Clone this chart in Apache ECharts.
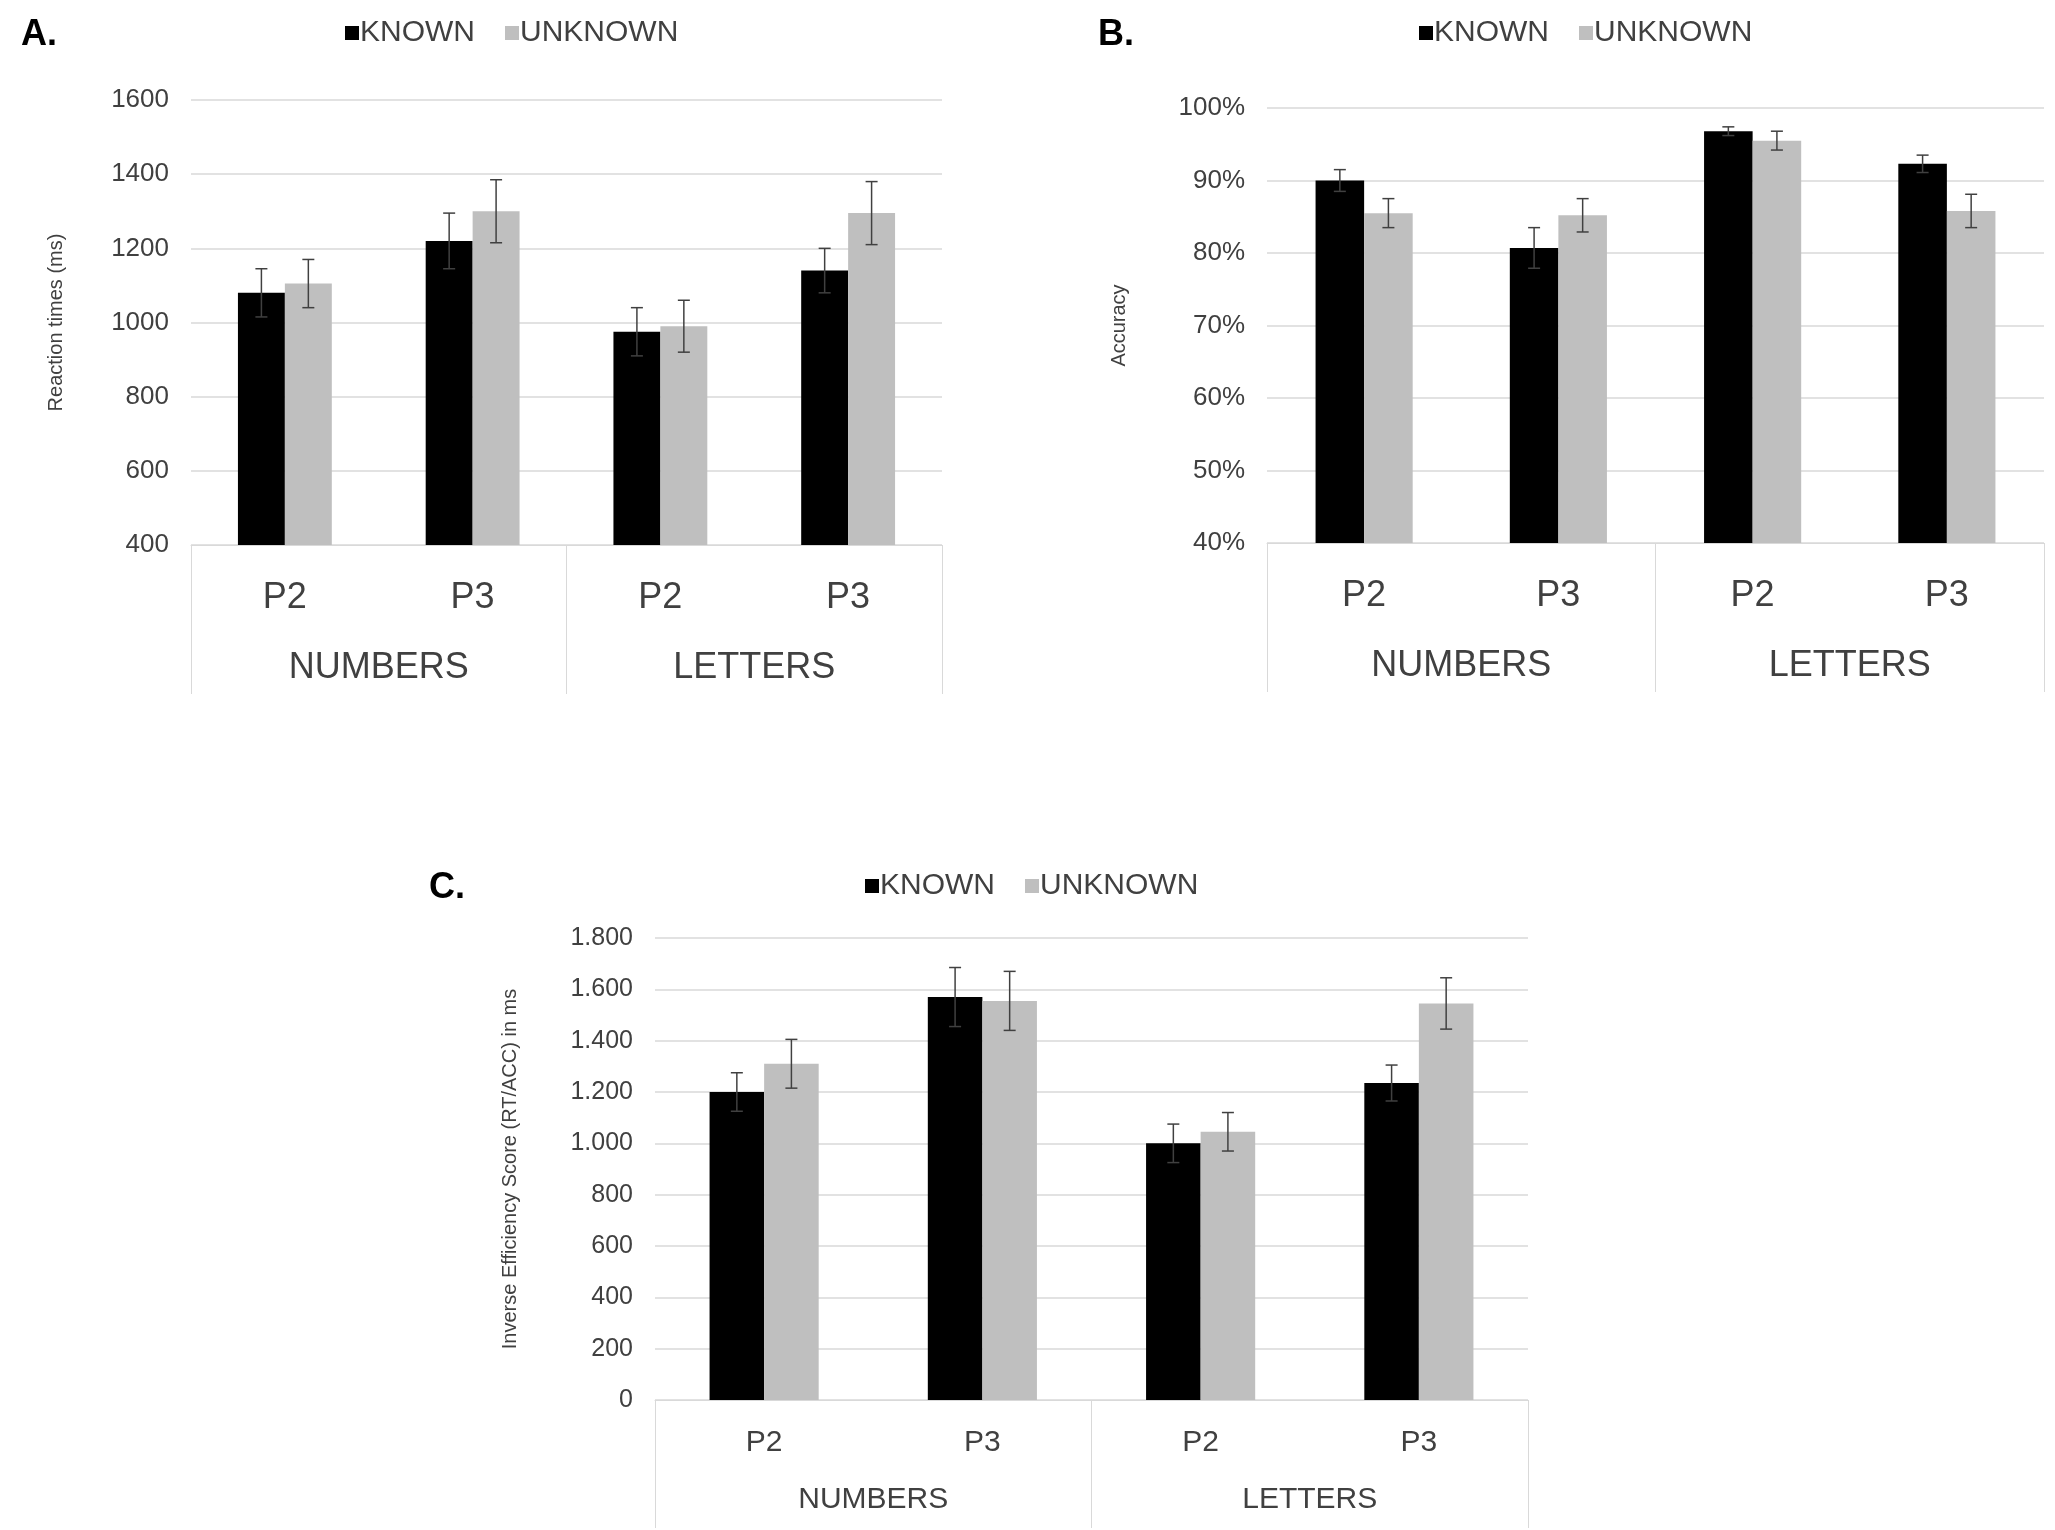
<!DOCTYPE html>
<html><head><meta charset="utf-8">
<script src="https://cdn.jsdelivr.net/npm/echarts@6/dist/echarts.min.js"></script>
<style>html,body{margin:0;background:#fff}#c{width:2055px;height:1530px}</style>
</head><body><div id="c"></div>
<script>
const subCats = ['P2','P3','P2','P3'];
const groupCats = ['NUMBERS','LETTERS'];
const rtKnown = [1080,1220,975,1140], rtKnownErr = [65,75,65,60];
const rtUnknown = [1105,1300,990,1295], rtUnknownErr = [65,85,70,85];
const accKnown = [90.0,80.7,96.8,92.3], accKnownErr = [1.5,2.8,0.6,1.2];
const accUnknown = [85.5,85.2,95.5,85.8], accUnknownErr = [2.0,2.3,1.3,2.3];
const iesKnown = [1200,1570,1000,1235], iesKnownErr = [75,115,75,70];
const iesUnknown = [1310,1555,1045,1545], iesUnknownErr = [95,115,75,100];

const FONT = 'Liberation Sans, Arial, sans-serif';
const grids = [
  {left:191, top:100, width:751, height:445},
  {left:1267, top:108, width:777, height:435},
  {left:655, top:938, width:873, height:462}
];
const panels = [
  {k:rtKnown,ke:rtKnownErr,u:rtUnknown,ue:rtUnknownErr,min:400,max:1600,int:200,name:'Reaction times (ms)',gap:125,fmt:v=>v,lbl:[35,105,149],sub:36,grp:36,ax:26},
  {k:accKnown,ke:accKnownErr,u:accUnknown,ue:accUnknownErr,min:40,max:100,int:10,name:'Accuracy',gap:138,fmt:v=>v+'%',lbl:[35,105,149],sub:36,grp:36,ax:26},
  {k:iesKnown,ke:iesKnownErr,u:iesUnknown,ue:iesUnknownErr,min:0,max:1800,int:200,name:'Inverse Efficiency Score (RT/ACC) in ms',gap:135,fmt:v=>v>=1000?Math.floor(v/1000)+'.'+String(v%1000).padStart(3,'0'):v,lbl:[28,85,128],sub:30,grp:30,ax:25}
];
const xAxis=[], yAxis=[], series=[];
panels.forEach((p,i)=>{
  xAxis.push({type:'category',gridIndex:i,data:subCats,axisLine:{lineStyle:{color:'#d9d9d9'}},axisTick:{show:false},
    axisLabel:{margin:p.lbl[0],fontSize:p.sub,color:'#404040',fontFamily:FONT}});
  xAxis.push({type:'category',gridIndex:i,data:groupCats,position:'bottom',axisLine:{show:false},
    axisTick:{show:true,length:p.lbl[2],lineStyle:{color:'#d9d9d9'}},
    axisLabel:{margin:p.lbl[1],fontSize:p.grp,color:'#404040',fontFamily:FONT}});
  yAxis.push({type:'value',gridIndex:i,min:p.min,max:p.max,interval:p.int,
    name:p.name,nameLocation:'middle',nameGap:p.gap,nameTextStyle:{fontSize:20,color:'#404040',fontFamily:FONT},
    axisLine:{show:false},axisTick:{show:false},splitLine:{lineStyle:{color:'#d9d9d9',width:1.5}},
    axisLabel:{fontSize:p.ax,color:'#404040',fontFamily:FONT,margin:22,formatter:p.fmt}});
  const xi=i*2;
  series.push({name:'KNOWN',type:'bar',xAxisIndex:xi,yAxisIndex:i,data:p.k,barGap:'0%',barCategoryGap:'50%',itemStyle:{color:'#000'}});
  series.push({name:'UNKNOWN',type:'bar',xAxisIndex:xi,yAxisIndex:i,data:p.u,itemStyle:{color:'#bfbfbf'}});
  const errData=[];
  p.k.forEach((v,j)=>{errData.push([j,v,p.ke[j],-1]);errData.push([j,p.u[j],p.ue[j],1]);});
  series.push({type:'custom',xAxisIndex:xi,yAxisIndex:i,data:errData,z:10,silent:true,
    renderItem:(params,api)=>{
      const j=api.value(0),v=api.value(1),e=api.value(2),s=api.value(3);
      const bw=api.size([1,0])[0];
      const hi=api.coord([j,v+e]),lo=api.coord([j,v-e]);
      const x=hi[0]+s*bw*0.125;
      const st={stroke:'#404040',lineWidth:1.5};
      return {type:'group',children:[
        {type:'line',shape:{x1:x,y1:hi[1],x2:x,y2:lo[1]},style:st},
        {type:'line',shape:{x1:x-6,y1:hi[1],x2:x+6,y2:hi[1]},style:st},
        {type:'line',shape:{x1:x-6,y1:lo[1],x2:x+6,y2:lo[1]},style:st}]};
    },encode:{x:0,y:1}});
});
const legendPos=[[520,29],[1594,29],[1040,882]];
const legend=legendPos.map(([x,y])=>({data:['KNOWN','UNKNOWN'],left:x,top:y,icon:'rect',itemWidth:14,itemHeight:14,itemGap:30,
  textStyle:{fontSize:30,color:'#404040',fontFamily:FONT,padding:[0,0,0,-4]},
  formatter:n=>n,  selectedMode:false, right:undefined}));
legend.forEach(l=>{l.left=l.left-180; l.top=l.top-16;});
const titles=[['A.',16,12],['B.',1093,12],['C.',424,865]].map(([t,x,y])=>({text:t,left:x,top:y,textStyle:{fontSize:36,fontWeight:'bold',color:'#000',fontFamily:FONT}}));
const chart=echarts.init(document.getElementById('c'));
chart.setOption({animation:false,title:titles,legend,grid:grids,xAxis,yAxis,series});
</script></body></html>
